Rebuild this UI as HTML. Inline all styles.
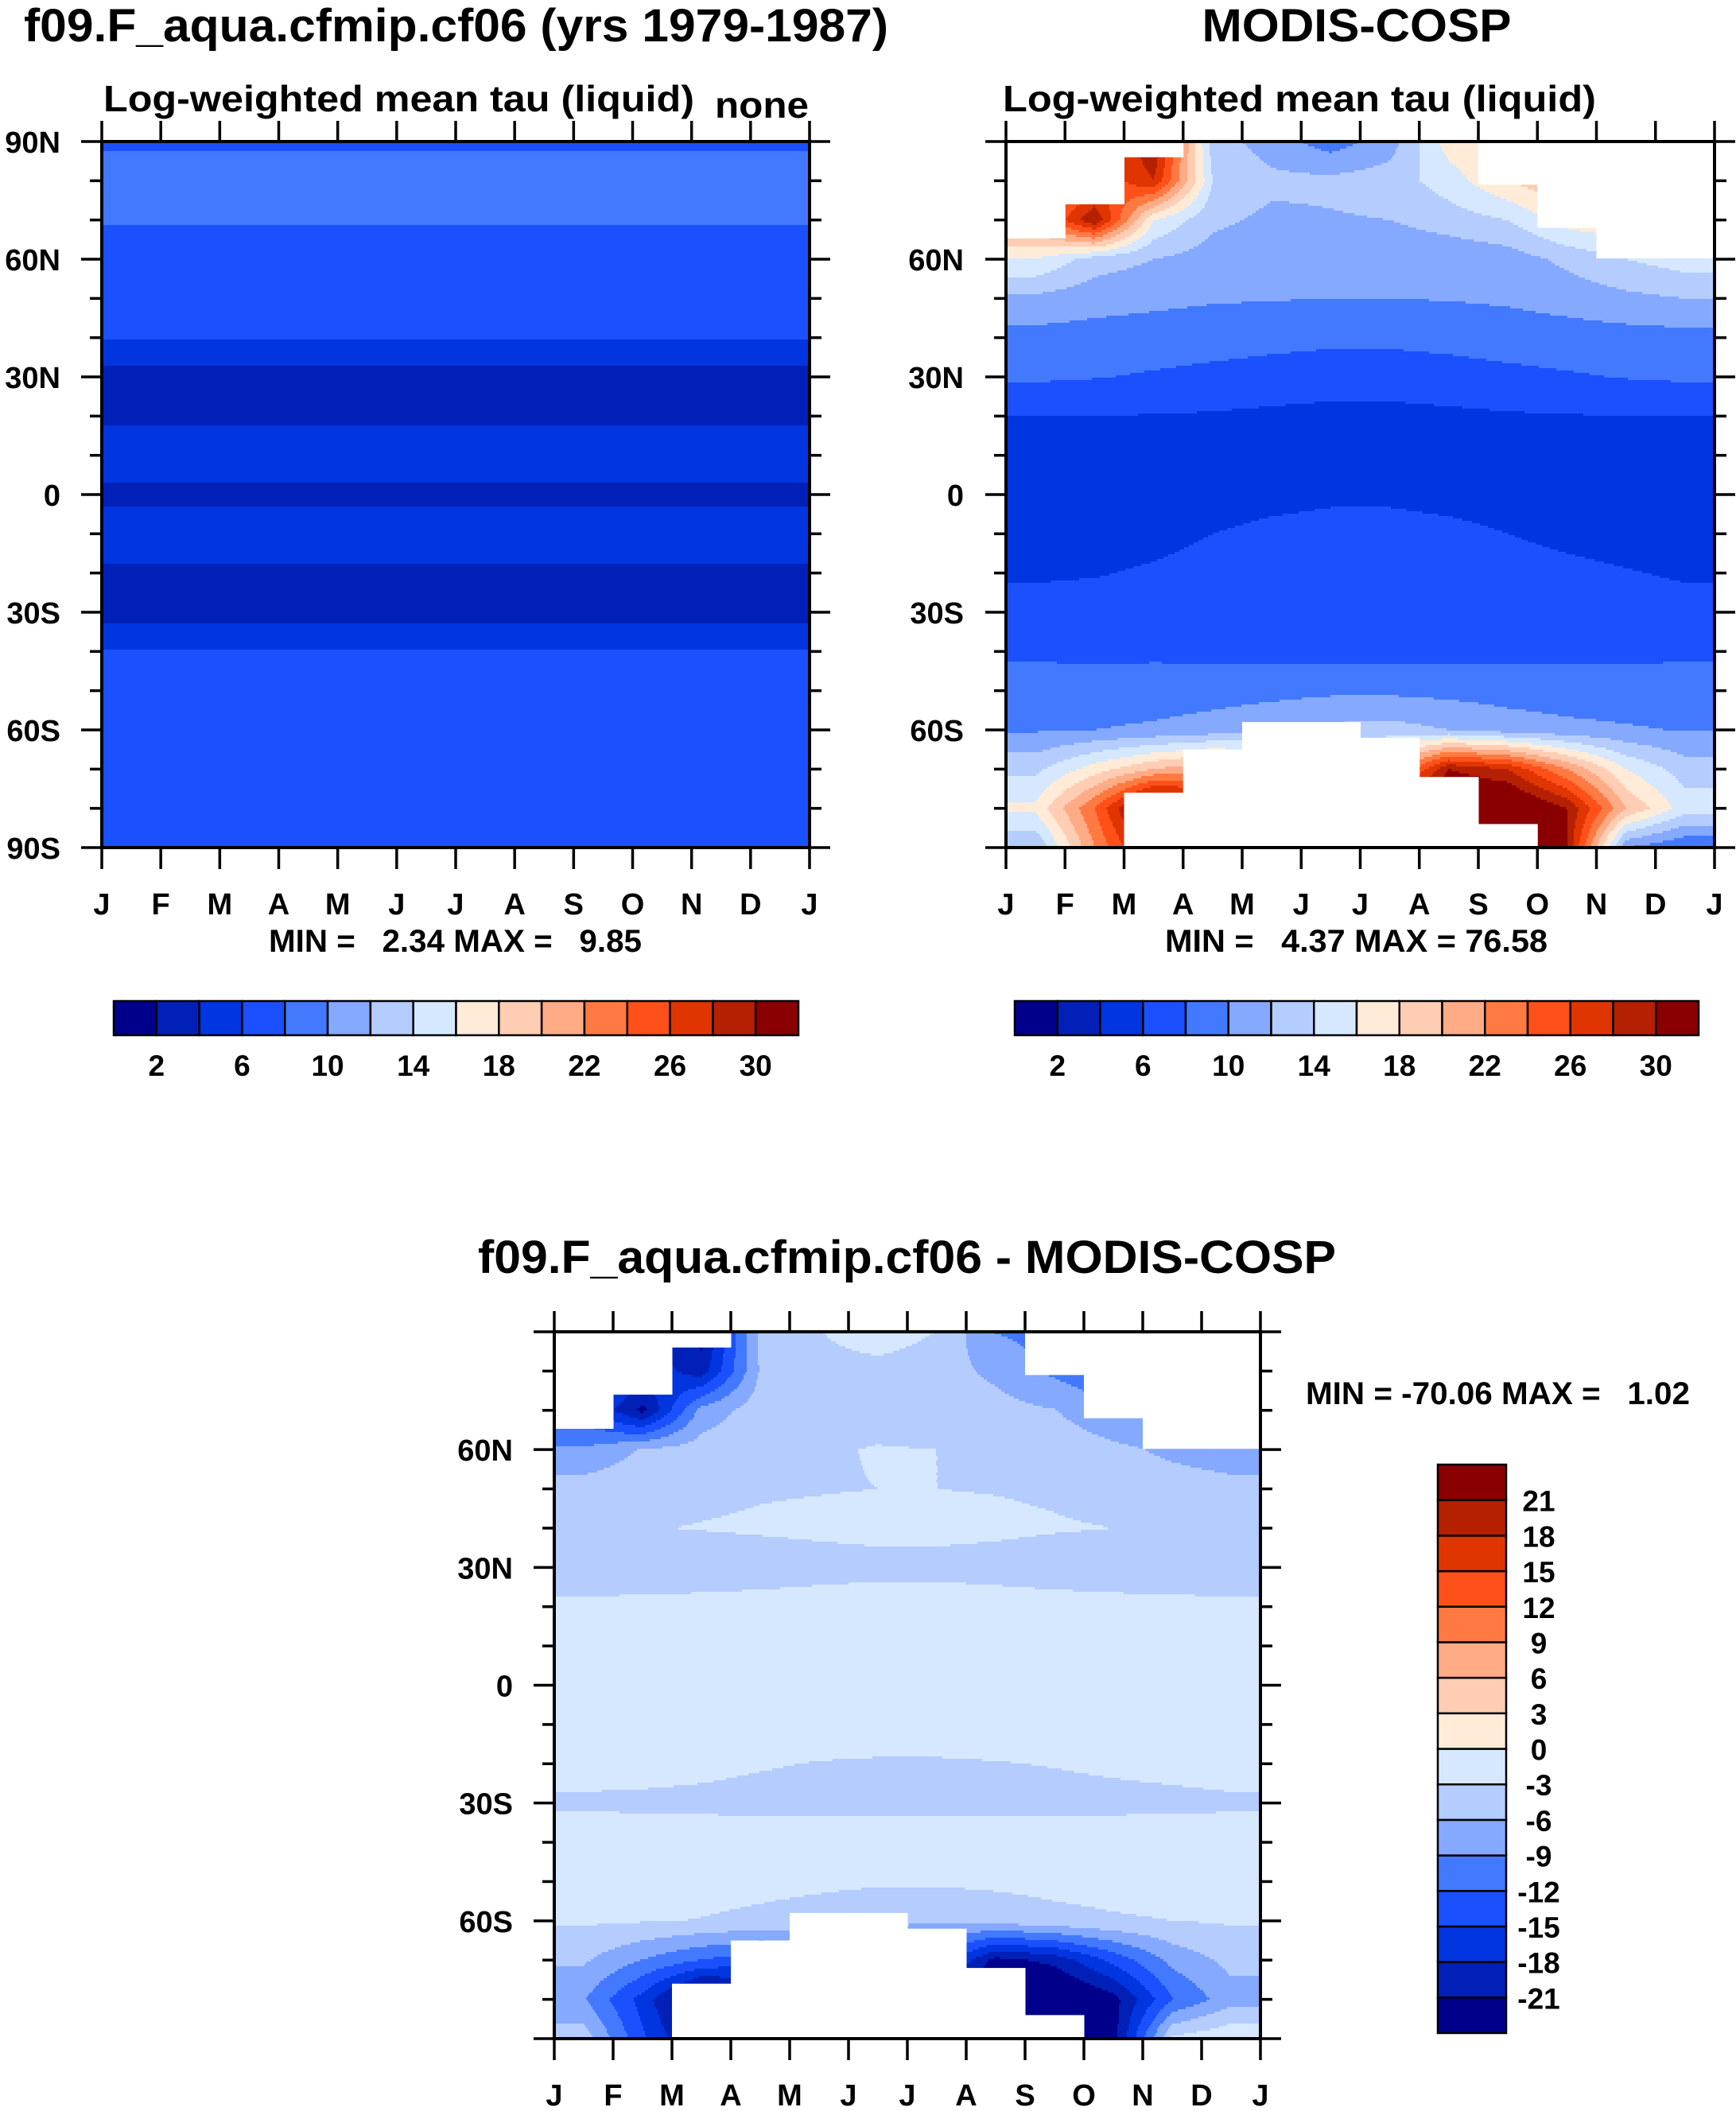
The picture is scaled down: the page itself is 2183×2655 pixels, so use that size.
<!DOCTYPE html>
<html><head><meta charset="utf-8"><style>
html,body{margin:0;padding:0;background:#fff;}
svg{display:block;font-family:"Liberation Sans",sans-serif;font-weight:bold;}
</style></head><body>
<svg id="root" width="2183" height="2655" viewBox="0 0 2183 2655" xmlns="http://www.w3.org/2000/svg">
<rect width="2183" height="2655" fill="#fff"/>
<text x="30" y="52" font-size="58" textLength="1087" lengthAdjust="spacingAndGlyphs">f09.F_aqua.cfmip.cf06 (yrs 1979-1987)</text>
<text x="1706" y="52" font-size="58" text-anchor="middle" textLength="389" lengthAdjust="spacingAndGlyphs">MODIS-COSP</text>
<text x="130" y="140" font-size="46" textLength="743" lengthAdjust="spacingAndGlyphs">Log-weighted mean tau (liquid)</text>
<text x="899" y="148" font-size="46" textLength="118" lengthAdjust="spacingAndGlyphs">none</text>
<text x="1261" y="140" font-size="46" textLength="746" lengthAdjust="spacingAndGlyphs">Log-weighted mean tau (liquid)</text>
<text x="601" y="1601" font-size="58" textLength="1079" lengthAdjust="spacingAndGlyphs">f09.F_aqua.cfmip.cf06 - MODIS-COSP</text>
<text x="338" y="1197" font-size="40" textLength="469" lengthAdjust="spacingAndGlyphs" xml:space="preserve">MIN =   2.34 MAX =   9.85</text>
<text x="1465" y="1197" font-size="40" textLength="481" lengthAdjust="spacingAndGlyphs" xml:space="preserve">MIN =   4.37 MAX = 76.58</text>
<text x="1642" y="1766" font-size="40" textLength="483" lengthAdjust="spacingAndGlyphs" xml:space="preserve">MIN = -70.06 MAX =   1.02</text>
</svg>
<script>
// ---- data ----
const monthLabels = ['J','F','M','A','M','J','J','A','S','O','N','D','J'];
const latNodes = [-90,-80,-70,-60,-50,-40,-30,-20,-10,0,10,20,30,40,50,60,70,80,90];
const modelTau = [7.6,7.8,7.9,7.2,7.0,6.1,3.2,3.8,4.6,3.7,4.6,3.8,3.2,6.1,7.0,7.3,8.1,8.3,7.9];
const modisTau = [
 [12,22,30,30,30,30,30,30,34,30,10,8],
 [16.5,24,34,30,30,30,30,34,34,30,20,15],
 [13.5,17,20,22,20,18,20,30,28,22,16,13],
 [9.8,10,10.3,10.8,11.5,12.5,12.8,12,11,10.5,10.2,9.9],
 [8.8,8.9,9.0,9.2,9.4,9.6,9.6,9.4,9.2,9.0,8.9,8.8],
 [7.7,7.6,7.6,7.5,7.4,7.3,7.3,7.3,7.4,7.5,7.6,7.7],
 [6.6,6.7,6.8,7.0,7.1,7.2,7.2,7.1,7.0,6.9,6.8,6.6],
 [5.8,5.9,6.2,6.6,6.9,7.0,7.0,6.9,6.7,6.4,6.1,5.8],
 [5.2,5.3,5.5,6.0,6.4,6.6,6.6,6.4,6.0,5.6,5.3,5.2],
 [4.9,4.9,5.0,5.2,5.5,5.7,5.7,5.5,5.3,5.1,5.0,4.9],
 [4.8,4.8,4.8,4.8,4.8,4.9,4.9,4.8,4.8,4.8,4.8,4.8],
 [6.0,6.0,5.9,5.8,5.6,5.4,5.4,5.6,5.8,5.9,6.0,6.0],
 [8.3,8.1,7.8,7.5,7.2,7.0,7.0,7.2,7.5,7.8,8.1,8.3],
 [9.3,9.2,9.0,8.8,8.6,8.4,8.4,8.6,8.9,9.1,9.2,9.3],
 [11.5,10.8,10.5,10.2,10.1,10,10,10.1,10.3,10.8,11.5,12],
 [16,13,12,11,10.5,10.2,10.3,10.5,11,12.5,14,15],
 [22,30,16,12.5,11.5,11.8,12,13,14,17,18,17],
 [20,24,28,14,12.5,12.5,13,15,18,20,18,18],
 [20,24,30,13,11,9,11,17,18,20,18,18]
];
const topMask = [65.3,74,86,90,90,90,90,90,79,68,60.2,60.2];
const bottomMask = [-90,-90,-76,-65,-58,-58,-62,-72,-84,-90,-90,-90];
const tauLevels = [2,4,6,8,10,12,14,16,18,20,22,24,26,28,30];
const tauTickLabels = ['2','6','10','14','18','22','26','30'];
const diffLevels = [-21,-18,-15,-12,-9,-6,-3,0,3,6,9,12,15,18,21];
const palette = ['#00008a','#0020b8','#0035e0','#1a50ff','#4279ff','#85a9ff','#b5ccff','#d5e8ff','#ffebd8','#ffcdb3','#ffab85','#ff7a42','#ff501a','#e03500','#b52000','#8a0000'];

const NS='http://www.w3.org/2000/svg';
const root=document.getElementById('root');
function mk(tag,attrs,parent){const e=document.createElementNS(NS,tag);for(const k in attrs)e.setAttribute(k,attrs[k]);(parent||root).appendChild(e);return e;}

function latInterp(arr,lat){
  let f=(lat+90)/10; if(f<0)f=0; if(f>18)f=18;
  const i=Math.min(17,Math.floor(f)), t=f-i; return arr[i]*(1-t)+arr[i+1]*t;
}
function modisAt(m,lat){
  let mx=m-0.5; if(mx<0)mx=0; if(mx>11)mx=11;
  const j=Math.min(10,Math.floor(mx)), s=mx-j;
  let f=(lat+90)/10; if(f<0)f=0; if(f>18)f=18;
  const i=Math.min(17,Math.floor(f)), t=f-i;
  const a=modisTau[i][j]*(1-s)+modisTau[i][j+1]*s;
  const b=modisTau[i+1][j]*(1-s)+modisTau[i+1][j+1]*s;
  return a*(1-t)+b*t;
}
function modelAt(m,lat){return latInterp(modelTau,lat);}
function diffAt(m,lat){return modelAt(m,lat)-modisAt(m,lat);}
function levelIdx(v,levels){let k=0;for(const l of levels)if(v>=l)k++;return k;}

const panels=[
 {key:'model',x:128,y:178,w:890,h:888,fn:modelAt,levels:tauLevels,mask:false,allLat:true,labRight:76},
 {key:'obs',x:1265,y:178,w:891,h:888,fn:modisAt,levels:tauLevels,mask:true,allLat:false,labRight:1212},
 {key:'diff',x:697,y:1675,w:888,h:889,fn:diffAt,levels:diffLevels,mask:true,allLat:false,labRight:645}
];

panels.forEach(p=>{
  const g=mk('g',{});
  
  
  const xS=m=>p.x+m/12*p.w, yS=lat=>p.y+(90-lat)/180*p.h;
  const rowH=3, colW=2;
  function flush(py,start,end,c){
    const r=mk('rect',{x:p.x+start,y:p.y+py,width:end-start+0.6,height:Math.min(rowH+0.6,p.h-py),fill:palette[c],'shape-rendering':'crispEdges'},g);
    
    
  }
  for(let py=0;py<p.h;py+=rowH){
    const lat=90-(py+rowH/2)/p.h*180;
    let runStart=0, runC=-1;
    for(let px=0;px<p.w;px+=colW){
      const m=(px+colW/2)/p.w*12;
      const c=levelIdx(p.fn(m,lat),p.levels);
      if(c!==runC){
        if(runC>=0) flush(py,runStart,px,runC);
        runStart=px; runC=c;
      }
    }
    if(runC>=0) flush(py,runStart,p.w,runC);
  }
  if(p.mask){
    for(let m=0;m<12;m++){
      if(topMask[m]<90){
        const r=mk('rect',{x:xS(m),y:p.y,width:p.w/12+0.5,height:yS(topMask[m])-p.y,fill:'#fff'},g);
        
        
      }
      if(bottomMask[m]>-90){
        const r=mk('rect',{x:xS(m),y:yS(bottomMask[m]),width:p.w/12+0.5,height:p.y+p.h-yS(bottomMask[m]),fill:'#fff'},g);
        
        
      }
    }
  }
  const fr=mk('rect',{x:p.x,y:p.y,width:p.w,height:p.h,fill:'none',stroke:'#000','stroke-width':4});
  
  
  const ax=mk('g',{stroke:'#000','stroke-width':3.5});
  
  
  for(let i=0;i<=12;i++){
    const x=xS(i);
    mk('line',{x1:x,y1:p.y,x2:x,y2:p.y-26},ax);
    mk('line',{x1:x,y1:p.y+p.h,x2:x,y2:p.y+p.h+27},ax);
    const t=mk('text',{x:x,y:p.y+p.h+84,'font-size':38,'text-anchor':'middle'});
    
    
    t.textContent=monthLabels[i];
  }
  for(let lat=-90;lat<=90;lat+=10){
    const y=yS(lat), major=lat%30===0, L=major?26:15;
    mk('line',{x1:p.x,y1:y,x2:p.x-L,y2:y},ax);
    mk('line',{x1:p.x+p.w,y1:y,x2:p.x+p.w+L,y2:y},ax);
    if(major && (p.allLat || Math.abs(lat)<90)){
      const t=mk('text',{x:p.labRight,y:y+14,'font-size':38,'text-anchor':'end'});
      
      
      t.textContent=lat===0?'0':(Math.abs(lat)+(lat>0?'N':'S'));
    }
  }
});

[{key:'model',x:143,w:861},{key:'obs',x:1276,w:860}].forEach(cb=>{
  const g=mk('g',{});
  
  
  const y0=1259,h=43,bw=cb.w/16;
  palette.forEach((c,i)=>{
    const r=mk('rect',{x:cb.x+i*bw,y:y0,width:bw,height:h,fill:c,stroke:'#000','stroke-width':2.5},g);
    
    
  });
  tauLevels.forEach((lv,i)=>{
    if(i%2)return;
    const t=mk('text',{x:cb.x+(i+1)*bw,y:1353,'font-size':37,'text-anchor':'middle'},g);
    
    
    t.textContent=tauTickLabels[i/2];
  });
});

(function(){
  const g=mk('g',{});
  
  
  const x0=1808,w=86,y0=1842,h=715,bh=h/16;
  palette.forEach((c,i)=>{
    const r=mk('rect',{x:x0,y:y0+h-(i+1)*bh,width:w,height:bh,fill:c,stroke:'#000','stroke-width':2.5},g);
    
    
  });
  diffLevels.forEach((lv,i)=>{
    const t=mk('text',{x:1935,y:y0+h-(i+1)*bh+14,'font-size':37,'text-anchor':'middle'},g);
    
    
    t.textContent=String(lv);
  });
})();
</script>
</body></html>
